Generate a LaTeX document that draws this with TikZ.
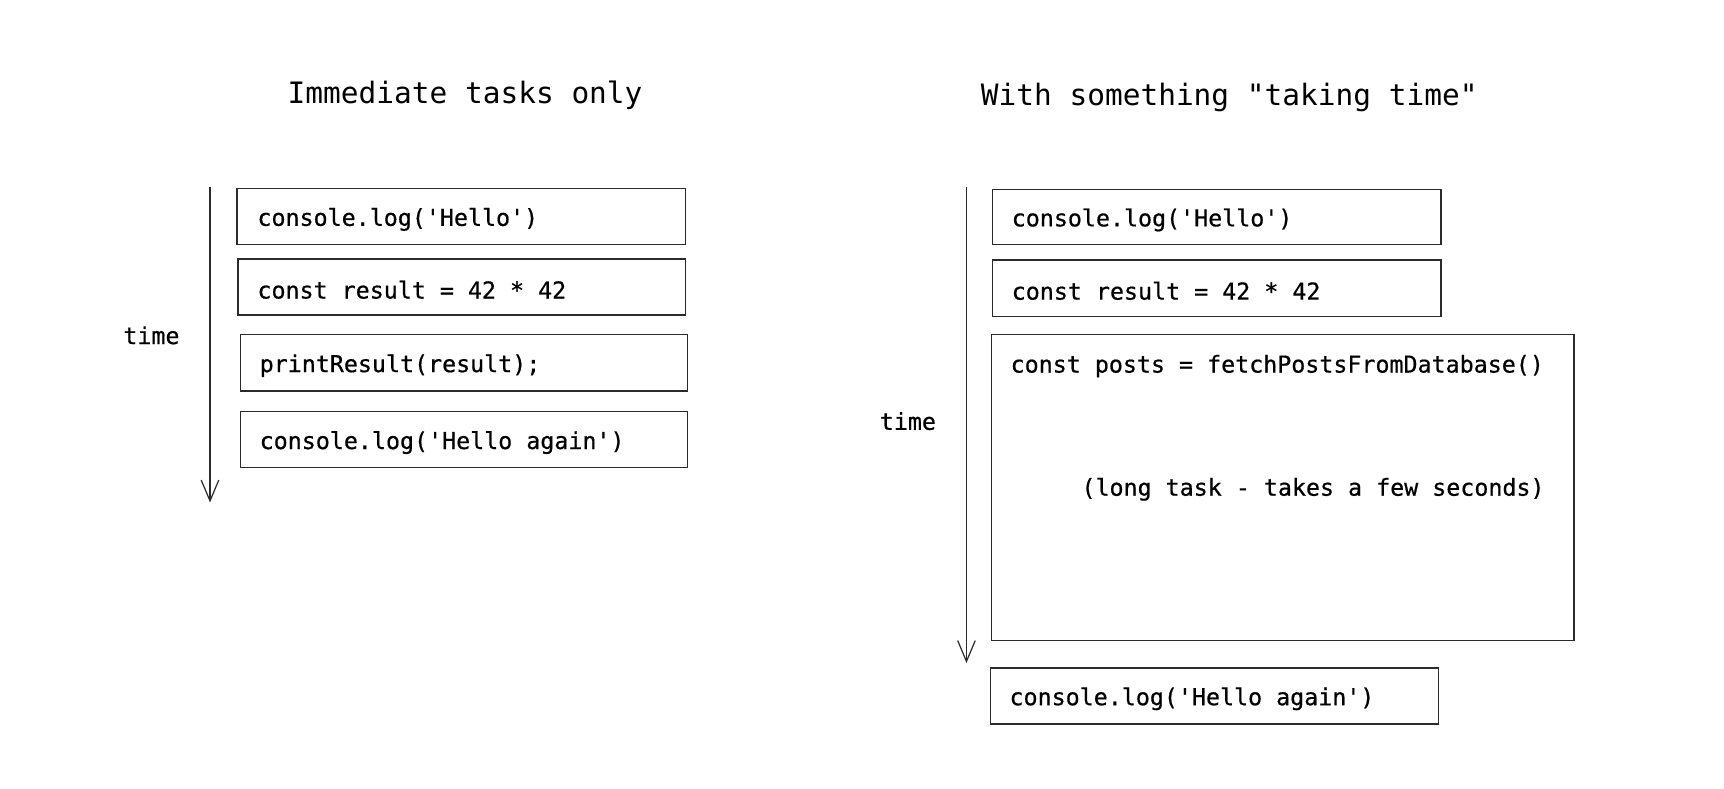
\documentclass[tikz,border=0pt]{standalone}
\usepackage{fontspec}
\setmonofont{DejaVu Sans Mono}
\newfontfamily\codefont[FakeBold=0.6]{DejaVu Sans Mono}
\usetikzlibrary{arrows.meta}
\definecolor{ink}{HTML}{2B2B2B}
\tikzset{
  box/.style={draw=ink, line width=1.1pt, anchor=north west, inner sep=0pt},
  code/.style={font=\codefont\fontsize{21.2}{25}\selectfont, text=black, anchor=west, inner sep=0pt},
  ttl/.style={font=\ttfamily\fontsize{26.8}{31}\selectfont, text=black, inner sep=0pt},
  timearrow/.style={draw=ink, line width=1.1pt, -{Straight Barb[length=19pt,width=16pt,line width=1.1pt]}},
}
\begin{document}
\begin{tikzpicture}[x=1pt,y=-1pt]
\useasboundingbox[fill=white] (0,0) rectangle (1568,716.7);

% ---------- Left panel ----------
\node[ttl] (t1) at (423,87) {Immediate tasks only};
\coordinate (la) at (191,170);
\coordinate (lb) at (191,457);
\draw[timearrow] (la) -- (lb);
\node[code] (time1) at (112,305) {time};

\node[box, minimum width=408pt, minimum height=51pt] (l1) at (215,171) {};
\node[code] (l1t) at ([xshift=19pt,yshift=-2.5pt]l1.west) {console.log('Hello')};
\node[box, minimum width=407pt, minimum height=51pt] (l2) at (216,235) {};
\node[code] (l2t) at ([xshift=18pt,yshift=-2.5pt]l2.west) {const result = 42 * 42};
\node[box, minimum width=407pt, minimum height=51pt] (l3) at (218,304) {};
\node[code] (l3t) at ([xshift=18pt,yshift=-2.5pt]l3.west) {printResult(result);};
\node[box, minimum width=407pt, minimum height=51pt] (l4) at (218,374) {};
\node[code] (l4t) at ([xshift=18pt,yshift=-2.5pt]l4.west) {console.log('Hello again')};

% ---------- Right panel ----------
\node[ttl] (t2) at (1118,89) {With something "taking time"};
\coordinate (ra) at (879,170);
\coordinate (rb) at (879,603);
\draw[timearrow] (ra) -- (rb);
\node[code] (time2) at (800,383) {time};

\node[box, minimum width=408pt, minimum height=50pt] (r1) at (902,172) {};
\node[code] (r1t) at ([xshift=18pt,yshift=-2.5pt]r1.west) {console.log('Hello')};
\node[box, minimum width=408pt, minimum height=51pt] (r2) at (902,236) {};
\node[code] (r2t) at ([xshift=18pt,yshift=-2.5pt]r2.west) {const result = 42 * 42};
\node[box, minimum width=530pt, minimum height=278pt] (r3) at (901,304) {};
\node[code] (r3t) at (919,333) {const posts = fetchPostsFromDatabase()};
\node[code, anchor=east] (r3n) at (1405,445) {(long task - takes a few seconds)};
\node[box, minimum width=408pt, minimum height=51pt] (r4) at (900,607) {};
\node[code] (r4t) at ([xshift=18pt,yshift=-2.5pt]r4.west) {console.log('Hello again')};
\end{tikzpicture}
\end{document}
